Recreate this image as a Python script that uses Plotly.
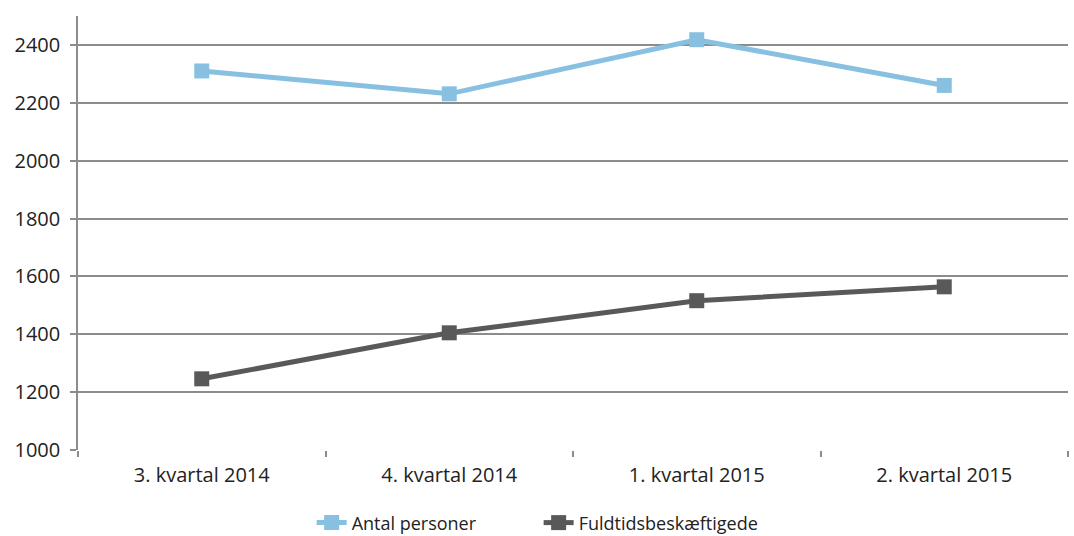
import plotly.graph_objects as go

quarters = ["3. kvartal 2014", "4. kvartal 2014", "1. kvartal 2015", "2. kvartal 2015"]
antal_personer = [2310, 2231, 2418, 2260]
fuldtidsbeskaeftigede = [1246, 1405, 1516, 1564]
y_ticks = [1000, 1200, 1400, 1600, 1800, 2000, 2200, 2400]

fig = go.Figure()
fig.add_trace(go.Scatter(
    x=quarters, y=antal_personer, name="Antal personer",
    mode="lines+markers",
    line=dict(color="#88c0e1", width=5),
    marker=dict(symbol="square", size=15, color="#88c0e1"),
))
fig.add_trace(go.Scatter(
    x=quarters, y=fuldtidsbeskaeftigede, name="Fuldtidsbeskæftigede",
    mode="lines+markers",
    line=dict(color="#595959", width=5),
    marker=dict(symbol="square", size=15, color="#595959"),
))

fig.update_layout(
    width=1074, height=536,
    margin=dict(l=78, r=6, t=16, b=86, autoexpand=False),
    paper_bgcolor="white", plot_bgcolor="white",
    font=dict(family="Open Sans, Noto Sans, sans-serif", size=20, color="#222222"),
    showlegend=True,
    legend=dict(orientation="h", x=0.236, xanchor="left", y=-0.168, yanchor="middle",
                font=dict(size=18), tracegroupgap=0, entrywidth=182),
)
fig.update_xaxes(
    type="category", range=[-0.5, 3.5],
    showgrid=False, showline=False,
    ticks="outside", tickson="boundaries", ticklen=6, tickcolor="#8c8c8c", tickwidth=1.5,
    ticklabelstandoff=11,
    zeroline=False,
)
fig.update_yaxes(
    range=[1000, 2500], tickvals=y_ticks,
    showgrid=True, gridcolor="#8c8c8c", gridwidth=1.5,
    showline=True, linecolor="#8c8c8c", linewidth=1.5,
    ticks="outside", ticklen=6, tickcolor="#8c8c8c", tickwidth=1.5,
    ticklabelstandoff=6,
    zeroline=False,
)

fig.write_html("out.html")
